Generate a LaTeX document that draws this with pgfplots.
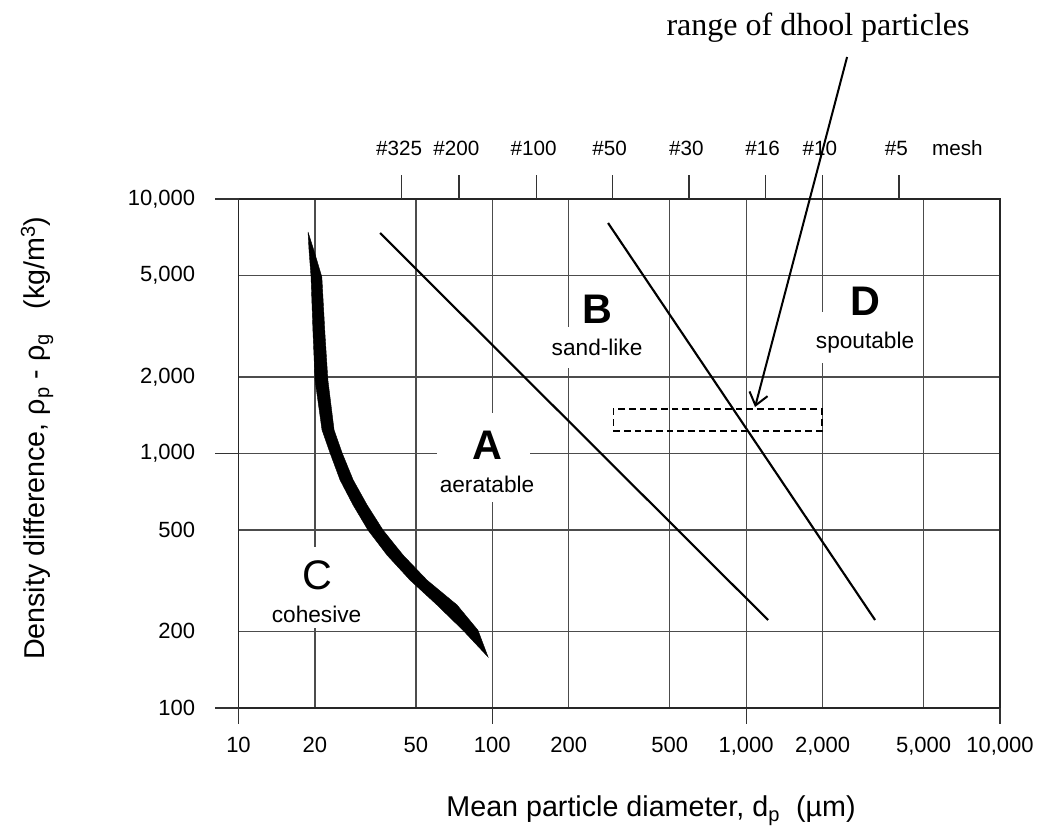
\documentclass[border=0pt]{standalone}
\usepackage{fontspec}
\setmainfont{Liberation Sans}
\newfontfamily\seriffont{Liberation Serif}
\usepackage{pgfplots}
\pgfplotsset{compat=1.18}
\usetikzlibrary{arrows.meta}

\begin{document}
\begin{tikzpicture}
\path[use as bounding box] (-178.875pt,-91.5pt) rectangle (617.625pt,531pt);
\begin{axis}[
  scale only axis, width=571.125pt, height=381.75pt,
  xmode=log, ymode=log, xmin=10, xmax=10000, ymin=100, ymax=10000,
  xtick={10,20,50,100,200,500,1000,2000,5000,10000},
  xticklabels={10,20,50,100,200,500,{1,000},{2,000},{5,000},{10,000}},
  ytick={100,200,500,1000,2000,5000,10000},
  yticklabels={100,200,500,{1,000},{2,000},{5,000},{10,000}},
  xminorticks=false, yminorticks=false,
  grid=major,
  major grid style={line width=1pt, black!70},
  major tick length=0pt,
  axis line style={line width=1.2pt, black!85},
  tick label style={font=\fontsize{16.5}{19}\selectfont},
  xticklabel style={yshift=-18.5pt},
  yticklabel style={xshift=-29pt},
  xlabel={Mean particle diameter, d\textsubscript{p}\ \ (µm)},
  ylabel={Density difference, ρ\textsubscript{p}\ -\ ρ\textsubscript{g}\ \ \ (kg/m\textsuperscript{3})},
  xlabel style={at={(axis description cs:0.5417,-0.2141)}, anchor=base, font=\fontsize{21.5}{25}\selectfont},
  ylabel style={at={(axis description cs:-0.2646,0.530)}, anchor=center, font=\fontsize{21.5}{25}\selectfont},
  clip=false,
]
% decade tick extensions
\draw[line width=1pt, black!80] (axis cs:10,100) -- ([yshift=-12pt]axis cs:10,100);
\draw[line width=1pt, black!80] (axis cs:100,100) -- ([yshift=-12pt]axis cs:100,100);
\draw[line width=1pt, black!80] (axis cs:1000,100) -- ([yshift=-12pt]axis cs:1000,100);
\draw[line width=1pt, black!80] (axis cs:10000,100) -- ([yshift=-12pt]axis cs:10000,100);
\draw[line width=1pt, black!80] (axis cs:10,100) -- ([xshift=-18pt]axis cs:10,100);
\draw[line width=1pt, black!80] (axis cs:10,1000) -- ([xshift=-18pt]axis cs:10,1000);
\draw[line width=1pt, black!80] (axis cs:10,10000) -- ([xshift=-18pt]axis cs:10,10000);
% mesh ticks
\draw[line width=1pt, black!80] (axis cs:44,10000) -- ([yshift=18pt]axis cs:44,10000);
\draw[line width=1pt, black!80] (axis cs:74,10000) -- ([yshift=18pt]axis cs:74,10000);
\draw[line width=1pt, black!80] (axis cs:149,10000) -- ([yshift=18pt]axis cs:149,10000);
\draw[line width=1pt, black!80] (axis cs:297,10000) -- ([yshift=18pt]axis cs:297,10000);
\draw[line width=1pt, black!80] (axis cs:595,10000) -- ([yshift=18pt]axis cs:595,10000);
\draw[line width=1pt, black!80] (axis cs:1190,10000) -- ([yshift=18pt]axis cs:1190,10000);
\draw[line width=1pt, black!80] (axis cs:2000,10000) -- ([yshift=18pt]axis cs:2000,10000);
\draw[line width=1pt, black!80] (axis cs:4000,10000) -- ([yshift=18pt]axis cs:4000,10000);
\begin{scope}[every node/.style={anchor=base, yshift=32.25pt, xshift=-2pt, font=\fontsize{15.5}{18}\selectfont}]
\node at (axis cs:44,10000) {\#325};
\node at (axis cs:74,10000) {\#200};
\node at (axis cs:149,10000) {\#100};
\node at (axis cs:297,10000) {\#50};
\node at (axis cs:595,10000) {\#30};
\node at (axis cs:1190,10000) {\#16};
\node at (axis cs:2000,10000) {\#10};
\node at (axis cs:4000,10000) {\#5};
\node at (axis cs:6966,10000) {mesh};
\end{scope}

% white label boxes
\node[fill=white, minimum width=69.75pt, minimum height=66.75pt, inner sep=0pt] at (axis cs:92.3,964.6) {};
\node[fill=white, minimum width=68pt, minimum height=31pt, inner sep=0pt] at (axis cs:258.6,2609) {};
\node[fill=white, minimum width=78pt, minimum height=38pt, inner sep=0pt] at (axis cs:2941,2857) {};
\node[fill=white, minimum width=72pt, minimum height=60.75pt, inner sep=0pt] at (axis cs:20.2,297.5) {};

% region letters
\node[anchor=base, font=\fontsize{31}{31}\selectfont\bfseries] at (axis cs:95.3,943) {A};
\node[anchor=base, font=\fontsize{17}{20}\selectfont] at (axis cs:95.3,699.6) {aeratable};
\node[anchor=base, font=\fontsize{31}{31}\selectfont\bfseries] at (axis cs:258.6,3256) {B};
\node[anchor=base, font=\fontsize{17}{20}\selectfont] at (axis cs:258.6,2416) {sand-like};
\node[anchor=base, font=\fontsize{31}{31}\selectfont] at (axis cs:20.39,290.9) {C};
\node[anchor=base, font=\fontsize{17}{20}\selectfont] at (axis cs:20.3,217.7) {cohesive};
\node[anchor=base, font=\fontsize{31}{31}\selectfont\bfseries] at (axis cs:2941,3501) {D};
\node[anchor=base, font=\fontsize{17}{20}\selectfont] at (axis cs:2941,2597) {spoutable};

% boundaries
\addplot[line width=1.6pt, black] coordinates {(36.1,7352) (1220,221.7)};
\addplot[line width=1.6pt, black] coordinates {(285.7,8049) (3220,221.7)};
\addplot[fill=black, draw=black, line width=0.3pt] coordinates {
(18.79,7419) (18.96,6304) (19.31,4937) (19.66,2975) (20.02,1945) (21.33,1237)
(22.94,1005) (25.12,787) (28.26,628) (32.37,500) (38.47,399) (47.40,318)
(60.54,254) (76.64,202) (96.2,158.6) (87.8,202) (72.6,254) (55.3,318)
(44.5,399) (37.1,500) (32.1,628) (28.3,787) (25.6,1005) (23.8,1237)
(22.5,1945) (21.9,2975) (21.3,4937) (19.8,6304) (18.79,7419)};

% dhool range
\addplot[line width=1.4pt, black, dash pattern=on 5pt off 3pt, line join=miter] coordinates {
(300,1230) (1990,1230) (1990,1490) (300,1490) (300,1230)};
\draw[line width=1.5pt, -{Straight Barb[length=9pt, width=14pt, line width=1.5pt]}] (axis cs:2498,36140) -- (axis cs:1084,1523);
\node[font=\seriffont\fontsize{24}{28}\selectfont] at (axis cs:1920,46990) {range of dhool particles};
\end{axis}
\end{tikzpicture}
\end{document}
